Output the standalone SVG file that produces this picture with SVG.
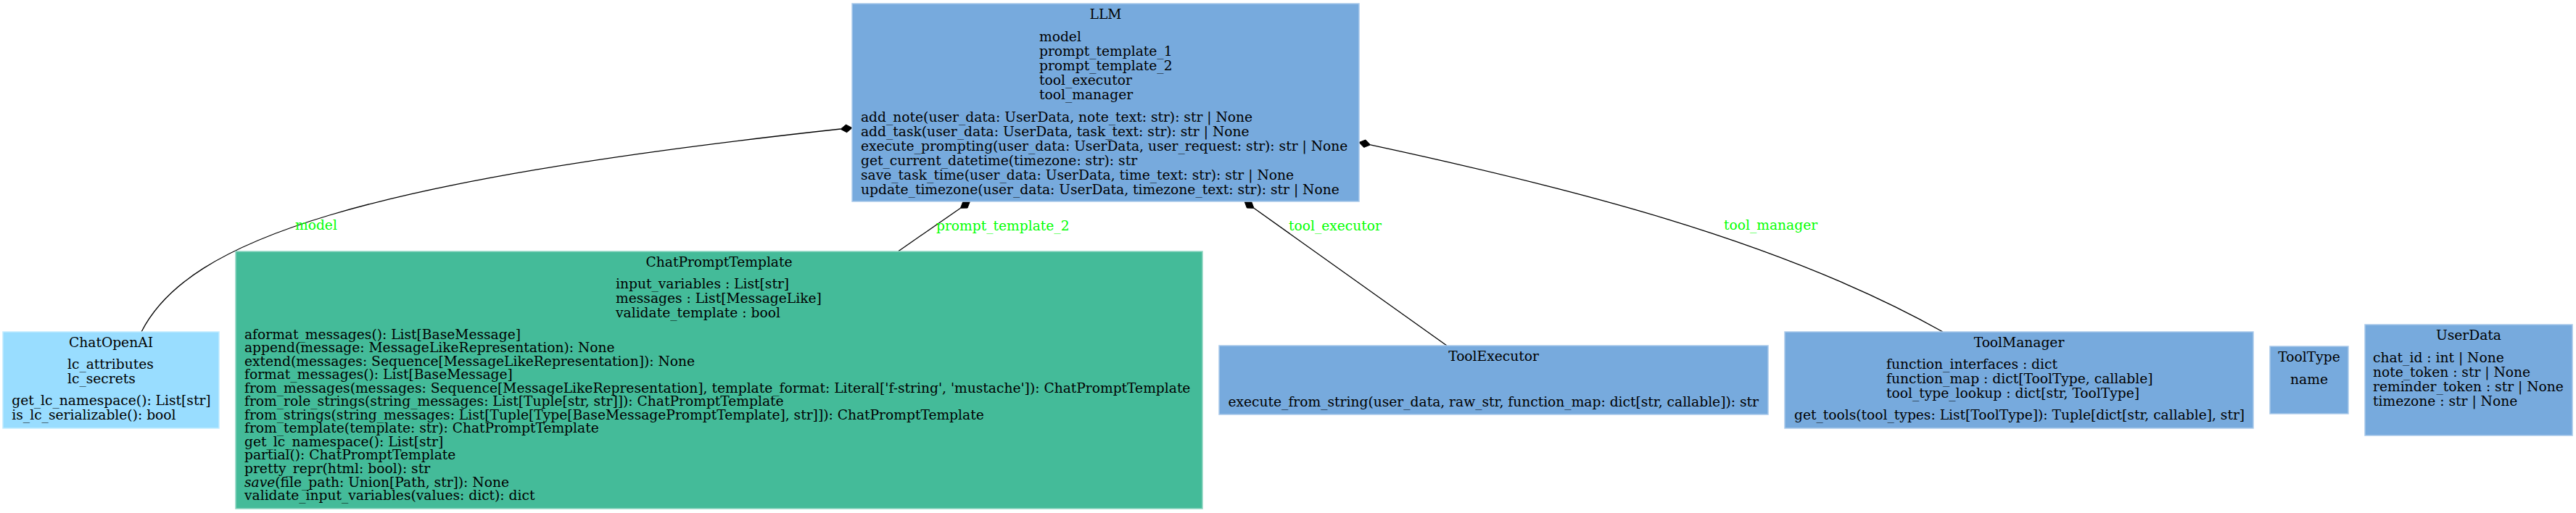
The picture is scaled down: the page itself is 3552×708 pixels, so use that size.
<svg xmlns="http://www.w3.org/2000/svg" width="3552" height="708" viewBox="0 0 3552 708">
<style>
text{font-family:"DejaVu Serif","Liberation Serif",serif;font-size:18.67px;fill:#000}
.t{text-anchor:middle}
.lbl{fill:#00ff00}
.blue{fill:#77aadd;stroke:#a9c9ea;stroke-width:1.5}
.cyan{fill:#99ddff;stroke:#c2ebff;stroke-width:1.5}
.mint{fill:#44bb99;stroke:#8fd6c2;stroke-width:1.5}
.edge{fill:none;stroke:#000;stroke-width:1.3}
.dia{fill:#000;stroke:#000;stroke-width:1}
</style>
<rect width="3552" height="708" fill="#fff"/>
<g id="connectors">
<g id="e-model">
<path class="edge" d="M195,458 C260,330 500,250 1159,178"/>
<polygon class="dia" points="1175,176.5 1167.6,182.7 1159.1,178.2 1166.5,172.1"/>
<text class="lbl" x="407" y="317">model</text>
</g>
<g id="e-prompt">
<path class="edge" d="M1238.7,346.7 L1324.4,287.2"/>
<polygon class="dia" points="1337.5,278 1334,287 1324.4,287.2 1327.9,278.2"/>
<text class="lbl" x="1291" y="318">prompt_template_2</text>
</g>
<g id="e-executor">
<path class="edge" d="M1995,477 L1729,287.3"/>
<polygon class="dia" points="1716,278 1725.6,278.3 1729,287.3 1719.4,287"/>
<text class="lbl" x="1777" y="318">tool_executor</text>
</g>
<g id="e-manager">
<path class="edge" d="M2679,458 C2450,329 2150,256 1889.6,199.9"/>
<polygon class="dia" points="1874,196.5 1882.9,193 1889.6,199.9 1880.7,203.4"/>
<text class="lbl" x="2377" y="317">tool_manager</text>
</g>
</g>
<g id="LLM">
<rect class="blue" x="1175" y="5" width="699" height="273"/>
<text class="t" x="1524.5" y="26">LLM</text>
<text x="1433" y="57">model</text>
<text x="1433" y="77">prompt_template_1</text>
<text x="1433" y="97">prompt_template_2</text>
<text x="1433" y="117">tool_executor</text>
<text x="1433" y="137">tool_manager</text>
<text x="1187" y="168">add_note(user_data: UserData, note_text: str): str | None</text>
<text x="1187" y="188">add_task(user_data: UserData, task_text: str): str | None</text>
<text x="1187" y="208">execute_prompting(user_data: UserData, user_request: str): str | None</text>
<text x="1187" y="228">get_current_datetime(timezone: str): str</text>
<text x="1187" y="248">save_task_time(user_data: UserData, time_text: str): str | None</text>
<text x="1187" y="268">update_timezone(user_data: UserData, timezone_text: str): str | None</text>
</g>
<g id="ChatOpenAI">
<rect class="cyan" x="4" y="458" width="298" height="133"/>
<text class="t" x="153" y="479">ChatOpenAI</text>
<text x="93" y="509">lc_attributes</text>
<text x="93" y="529">lc_secrets</text>
<text x="16.3" y="559">get_lc_namespace(): List[str]</text>
<text x="16.3" y="579">is_lc_serializable(): bool</text>
</g>
<g id="ChatPromptTemplate">
<rect class="mint" x="325" y="347" width="1333" height="355"/>
<text class="t" x="991.5" y="368">ChatPromptTemplate</text>
<text x="849" y="398">input_variables : List[str]</text>
<text x="849" y="418">messages : List[MessageLike]</text>
<text x="849" y="438">validate_template : bool</text>
<text x="337" y="467.5">aformat_messages(): List[BaseMessage]</text>
<text x="337" y="486.05">append(message: MessageLikeRepresentation): None</text>
<text x="337" y="504.6">extend(messages: Sequence[MessageLikeRepresentation]): None</text>
<text x="337" y="523.15">format_messages(): List[BaseMessage]</text>
<text x="337" y="541.7">from_messages(messages: Sequence[MessageLikeRepresentation], template_format: Literal['f-string', 'mustache']): ChatPromptTemplate</text>
<text x="337" y="560.25">from_role_strings(string_messages: List[Tuple[str, str]]): ChatPromptTemplate</text>
<text x="337" y="578.8">from_strings(string_messages: List[Tuple[Type[BaseMessagePromptTemplate], str]]): ChatPromptTemplate</text>
<text x="337" y="597.35">from_template(template: str): ChatPromptTemplate</text>
<text x="337" y="615.9">get_lc_namespace(): List[str]</text>
<text x="337" y="634.45">partial(): ChatPromptTemplate</text>
<text x="337" y="653">pretty_repr(html: bool): str</text>
<text x="337" y="671.55"><tspan font-style="italic">save</tspan>(file_path: Union[Path, str]): None</text>
<text x="337" y="690.1">validate_input_variables(values: dict): dict</text>
</g>
<g id="ToolExecutor">
<rect class="blue" x="1681" y="477" width="757" height="95"/>
<text class="t" x="2059.5" y="498">ToolExecutor</text>
<text x="1693.5" y="561">execute_from_string(user_data, raw_str, function_map: dict[str, callable]): str</text>
</g>
<g id="ToolManager">
<rect class="blue" x="2461" y="458" width="646" height="133"/>
<text class="t" x="2784" y="478.5">ToolManager</text>
<text x="2601" y="509">function_interfaces : dict</text>
<text x="2601" y="529">function_map : dict[ToolType, callable]</text>
<text x="2601" y="549">tool_type_lookup : dict[str, ToolType]</text>
<text x="2474" y="579">get_tools(tool_types: List[ToolType]): Tuple[dict[str, callable], str]</text>
</g>
<g id="ToolType">
<rect class="blue" x="3130" y="478" width="108" height="93"/>
<text class="t" x="3184" y="499">ToolType</text>
<text class="t" x="3184" y="530">name</text>
</g>
<g id="UserData">
<rect class="blue" x="3261" y="448" width="286" height="153"/>
<text class="t" x="3404" y="469">UserData</text>
<text x="3272" y="500">chat_id : int | None</text>
<text x="3272" y="520">note_token : str | None</text>
<text x="3272" y="540">reminder_token : str | None</text>
<text x="3272" y="560">timezone : str | None</text>
</g>
</svg>
